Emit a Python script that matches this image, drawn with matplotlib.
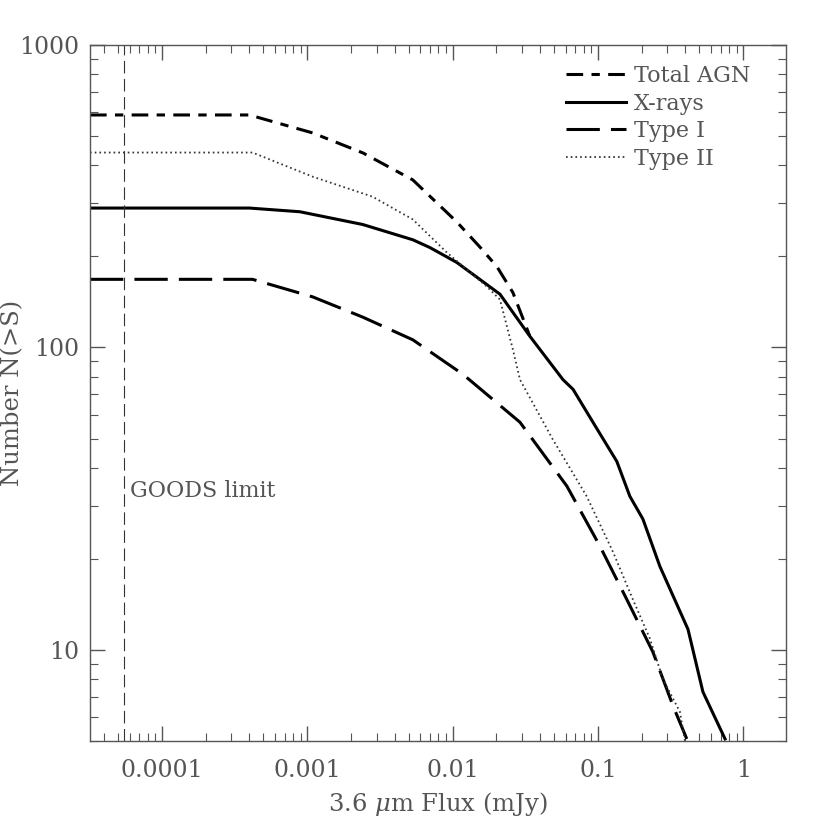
import numpy as np
import matplotlib
matplotlib.use('Agg')
import matplotlib.pyplot as plt
from matplotlib.ticker import LogLocator, FixedLocator, FixedFormatter, NullFormatter

plt.rcParams['font.family'] = ['DejaVu Serif']
plt.rcParams['mathtext.fontset'] = 'dejavuserif'
plt.rcParams['lines.scale_dashes'] = False

# flux (mJy) and cumulative counts
total_x = [3.2e-5, 4.0e-4, 1.09e-3, 2.41e-3, 5.33e-3, 1.07e-2, 1.54e-2, 2.02e-2, 2.6e-2, 3.4e-2]
total_n = [587, 587, 512, 440, 358, 260, 215, 185, 152, 109]

xray_x = [3.2e-5, 4.0e-4, 8.9e-4, 2.41e-3, 5.33e-3, 6.98e-3, 1.07e-2, 2.12e-2, 3.4e-2,
          5.75e-2, 6.75e-2, 9.25e-2, 0.135, 0.166, 0.204, 0.267, 0.417, 0.528, 0.75]
xray_n = [289, 289, 281, 255, 227, 214, 191, 150, 109,
          78.3, 72.7, 56.6, 42.0, 32.2, 27.1, 18.9, 11.7, 7.27, 5.08]

type1_x = [3.2e-5, 4.2e-4, 1.09e-3, 2.41e-3, 5.33e-3, 1.18e-2, 2.91e-2, 6.12e-2,
           0.1035, 0.158, 0.239, 0.329, 0.409]
type1_n = [168, 168, 147, 126, 106, 81.5, 56.6, 34.8, 22.0, 14.7, 9.85, 6.53, 5.08]

type2_x = [3.2e-5, 4.2e-4, 1.09e-3, 2.82e-3, 5.33e-3, 9.14e-3, 1.72e-2, 2.12e-2, 2.6e-2,
           2.91e-2, 4.89e-2, 8.38e-2, 0.127, 0.174, 0.228, 0.280, 0.367, 0.397]
type2_n = [441, 441, 367, 315, 265, 206, 159, 144, 98.5,
           78.3, 49.7, 32.2, 21.1, 14.7, 10.9, 8.02, 6.24, 5.0]

goods_limit = 5.5e-5

xticks = [1e-4, 1e-3, 1e-2, 1e-1, 1]
xticklabels = ['0.0001', '0.001', '0.01', '0.1', '1']
yticks = [10, 100, 1000]
yticklabels = ['10', '100', '1000']

grey = '#555555'

fig = plt.figure(figsize=(8.3, 8.3), dpi=100)
ax = fig.add_axes([0.1084, 0.1072, 0.8386, 0.8386])

ax.plot(total_x, total_n, color='black', lw=2.2, dashes=[12, 6, 6, 6], label='Total AGN')
ax.plot(xray_x, xray_n, color='black', lw=2.2, label='X-rays')
ax.plot(type1_x, type1_n, color='black', lw=2.2, dashes=[24, 8], label='Type I')
ax.plot(type2_x, type2_n, color='#333333', lw=1.3, dashes=[1.2, 2.2], label='Type II')

ax.axvline(goods_limit, color='#333333', lw=0.8, dashes=[9, 4])
ax.text(6.0e-5, 32, 'GOODS limit', fontsize=16, color=grey)

ax.set_xscale('log')
ax.set_yscale('log')
ax.set_xlim(3.2e-5, 1.97)
ax.set_ylim(5, 1000)

ax.xaxis.set_major_locator(FixedLocator(xticks))
ax.xaxis.set_major_formatter(FixedFormatter(xticklabels))
ax.yaxis.set_major_locator(FixedLocator(yticks))
ax.yaxis.set_major_formatter(FixedFormatter(yticklabels))
ax.xaxis.set_minor_locator(LogLocator(base=10, subs=np.arange(2, 10), numticks=20))
ax.yaxis.set_minor_locator(LogLocator(base=10, subs=np.arange(2, 10), numticks=20))
ax.xaxis.set_minor_formatter(NullFormatter())
ax.yaxis.set_minor_formatter(NullFormatter())

ax.tick_params(which='both', direction='in', top=True, right=True, color=grey,
               labelcolor=grey, labelsize=17)
ax.tick_params(which='major', length=11, width=1)
ax.tick_params(which='minor', length=6, width=0.8)
ax.tick_params(axis='x', which='major', pad=13)
ax.tick_params(axis='y', which='major', pad=8)
for s in ax.spines.values():
    s.set_color(grey)
    s.set_linewidth(1)

ax.set_xlabel(r'3.6 $\mu$m Flux (mJy)', fontsize=17.5, color=grey)
ax.set_ylabel('Number N(>S)', fontsize=17.5, color=grey)
ax.xaxis.set_label_coords(0.5, -0.07)
ax.yaxis.set_label_coords(-0.094, 0.5)

leg = ax.legend(loc='upper right', bbox_to_anchor=(0.961, 0.984), frameon=False,
                fontsize=16, handlelength=2.7, handletextpad=0.35, labelspacing=0.25,
                borderaxespad=0)
for t in leg.get_texts():
    t.set_color(grey)

fig.savefig('out.png', dpi=100)
